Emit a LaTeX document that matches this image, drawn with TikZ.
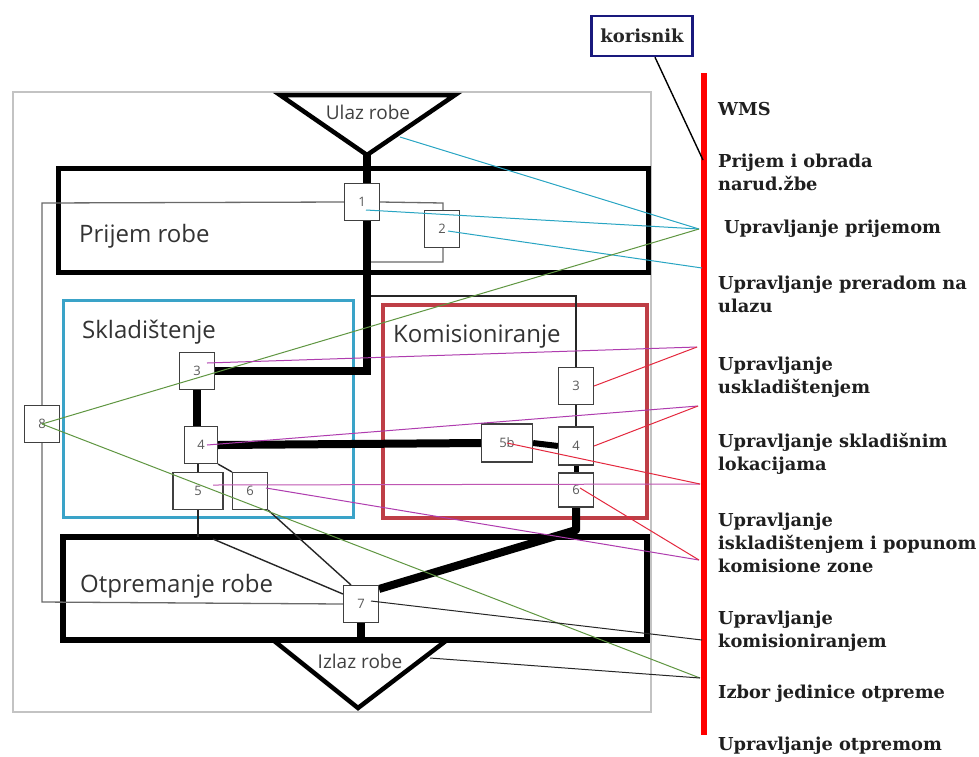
\documentclass[tikz,border=0pt]{standalone}
\usepackage{fontspec}
\setmainfont{DejaVu Serif}
\newfontfamily\osans{Open Sans}
\usetikzlibrary{calc}
\definecolor{framegray}{RGB}{195,195,195}
\definecolor{loopgray}{RGB}{105,105,105}
\definecolor{sklcol}{RGB}{58,163,200}
\definecolor{komcol}{RGB}{190,62,70}
\definecolor{lcyan}{RGB}{40,165,195}
\definecolor{lgreen}{RGB}{95,150,65}
\definecolor{lpurp}{RGB}{175,60,175}
\definecolor{lred}{RGB}{228,40,62}
\definecolor{navycol}{RGB}{25,25,125}
\begin{document}
\begin{tikzpicture}[x=1pt,y=-1pt,
  numbox/.style={draw=black!75, fill=white, line width=1.1pt, minimum width=35pt, minimum height=37pt, inner sep=0pt, font=\osans\fontsize{13}{14}\selectfont, text=black!65},
  thickline/.style={line width=8pt},
  thinline/.style={line width=1.4pt, black!85},
  grayline/.style={line width=1.3pt, loopgray},
  conn/.style={line width=1pt},
  lbl/.style={font=\osans\fontsize{24}{28}\selectfont, text=black!80, anchor=west, inner sep=0pt},
  trilbl/.style={font=\osans\fontsize{19}{20}\selectfont, text=black!75, inner sep=0pt},
  wms/.style={font=\bfseries\fontsize{17.8}{23}\selectfont, text=black!88, anchor=base west, align=left, inner sep=0pt},
]
\useasboundingbox (0,0) rectangle (979,756);
\fill[white] (0,0) rectangle (979,756);

% outer frame
\node[draw=framegray, line width=1.5pt, minimum width=638pt, minimum height=620pt, inner sep=0pt] (frame) at (332,402) {};

% area boxes
\node[draw, line width=5pt, minimum width=590pt, minimum height=104pt, inner sep=0pt] (prijemBox) at (353,220) {};
\node[lbl] (prijemTxt) at (79,236) {Prijem robe};
\node[draw=sklcol, line width=3pt, minimum width=290pt, minimum height=217pt, inner sep=0pt] (sklBox) at (208,408.5) {};
\node[lbl] (sklTxt) at (82,332) {Skladištenje};
\node[draw=komcol, line width=3.5pt, minimum width=264pt, minimum height=213pt, inner sep=0pt] (komBox) at (515,411.5) {};
\node[lbl] (komTxt) at (393,337) {Komisioniranje};
\node[draw, line width=6pt, minimum width=584pt, minimum height=103pt, inner sep=0pt] (otpBox) at (355,588.5) {};
\node[lbl] (otpTxt) at (80,586) {Otpremanje robe};

% triangles
\coordinate (uL) at (280,95); \coordinate (uR) at (455,95); \coordinate (uA) at (367,155);
\draw[line width=4.5pt, line join=miter] (uL) -- (uR) -- (uA) -- cycle;
\node[trilbl] (ulaz) at (368,112) {Ulaz robe};
\coordinate (iL) at (273,640); \coordinate (iR) at (447,640); \coordinate (iA) at (358,708);
\draw[line width=4.5pt, line join=miter] (iL) -- (iA) -- (iR);
\node[trilbl] (izlaz) at (360,661) {Izlaz robe};
\coordinate (ulazR) at (400,137);
\coordinate (izlazR) at (430,658);

% boxes (positions)
\path
  (362,202) node[numbox] (b1) {1}
  (442,229) node[numbox] (b2) {2}
  (197,371) node[numbox] (b3) {3}
  (201,445) node[numbox, minimum width=33pt] (b4) {4}
  (198,491) node[numbox, minimum width=50pt] (b5) {5}
  (250,491) node[numbox] (b6) {6}
  (576,386) node[numbox] (r3) {3}
  (576,446) node[numbox, minimum height=38pt] (r4) {4}
  (576,490) node[numbox, minimum height=34pt] (r6) {6}
  (507,443) node[numbox, minimum width=51pt, minimum height=38pt] (b5b) {5b}
  (361,604) node[numbox] (b7) {7}
  (42,424) node[numbox] (b8) {8};

% gray loop lines
\coordinate (gTL) at (42,203); \coordinate (gBL) at (42,602);
\coordinate (gR1) at (443,203); \coordinate (gR2) at (443,262); \coordinate (gR3) at (367,262);
\draw[grayline] (b1.west) -- (gTL) -- (gBL) -- (b7.west);
\draw[grayline] (b1.east) -- (gR1) -- (gR2) -- (gR3);

% thin black lines
\coordinate (kTop) at (367,296);
\draw[thinline] (kTop) -| (r3.north);
\draw[thinline] (r3.south) -- (r4.north);
\draw[thinline] (b4.south -| b5.north) -- (b5.north);
\draw[thinline] (b4.south east) -- (b6.north west);
\coordinate (o5) at (198,537);
\draw[thinline] (b5.south) -- (o5);
\coordinate (o7) at (213,539);
\draw[thinline] (o7) -- ($(b7.west)+(0,-10)$);
\draw[thinline] (b6.south east) -- ($(b7.north)+(-10,0)$);

% thick flow lines
\draw[thickline] (uA) |- (b3.east);
\draw[thickline] (b3.south) -- (b3.south |- b4.north);
\draw[thickline] (b4.east) -- (b5b.west);
\draw[line width=6pt] (b5b.east) -- (r4.west);
\draw[line width=5pt] (r4.south) -- (r6.north);
\coordinate (kBend) at (576,530);
\draw[thickline, line join=round] (r6.south) -- (kBend) -- ($(b7.north east)+(0,4)$);
\coordinate (o7b) at (361,640);
\draw[thickline] (b7.south) -- (o7b);

% redraw boxes on top of lines
\path
  (362,202) node[numbox] {1}
  (442,229) node[numbox] {2}
  (197,371) node[numbox] {3}
  (201,445) node[numbox, minimum width=33pt] {4}
  (198,491) node[numbox, minimum width=50pt] {5}
  (250,491) node[numbox] {6}
  (576,386) node[numbox] {3}
  (576,446) node[numbox, minimum height=38pt] {4}
  (576,490) node[numbox, minimum height=34pt] {6}
  (507,443) node[numbox, minimum width=51pt, minimum height=38pt] {5b}
  (361,604) node[numbox] {7}
  (42,424) node[numbox] {8};

% WMS bar and points
\coordinate (wTop) at (704,73); \coordinate (wBot) at (704,735);
\draw[red, line width=6pt] (wTop) -- (wBot);
\coordinate (pNar) at (703,160);
\coordinate (pPrijem) at (699,229);
\coordinate (pPrerada) at (702,268);
\coordinate (pUsk) at (697,347);
\coordinate (pLok) at (698,406);
\coordinate (pIsk1) at (700,484);
\coordinate (pIsk2) at (699,560);
\coordinate (pKom) at (702,640);
\coordinate (pIzbor) at (700,678);

% colored connectors
\draw[conn, lcyan] (ulazR) -- (pPrijem);
\draw[conn, lcyan] ([shift={(4,8)}]b1.center) -- (pPrijem);
\draw[conn, lcyan] ([shift={(6,2)}]b2.center) -- (pPrerada);
\draw[conn, lgreen] (b8.center) -- (pPrijem);
\draw[conn, lgreen] (b8.center) -- (pIzbor);
\draw[conn, lpurp] ([shift={(10,-8)}]b3.center) -- (pUsk);
\draw[conn, lpurp] ([shift={(6,0)}]b4.center) -- (pLok);
\draw[conn, lpurp!80!pink] ([shift={(15,-6)}]b5.center) -- (pIsk1);
\draw[conn, lpurp] ([shift={(16,-3)}]b6.center) -- (pIsk2);
\draw[conn, lred] (r3.east) -- (pUsk);
\draw[conn, lred] (r4.east) -- (pLok);
\draw[conn, lred] (b5b.center) -- (pIsk1);
\draw[conn, lred] ([shift={(4,-2)}]r6.center) -- (pIsk2);
\draw[conn, black!85] ([shift={(10,-3)}]b7.center) -- (pKom);
\draw[conn, black!85] (izlazR) -- (pIzbor);

% korisnik
\node[draw=navycol, line width=2.5pt, fill=white, minimum width=101pt, minimum height=40pt, inner sep=0pt, font=\bfseries\fontsize{18}{20}\selectfont, text=black!85] (kor) at (642,36) {korisnik};
\draw[line width=1.4pt] ([xshift=13pt]kor.south) -- (pNar);

% WMS texts (base = baseline of last line)
\node[wms] (t0) at (718,115) {WMS};
\node[wms] (t1) at (718,190) {Prijem i obrada\\narud.žbe};
\node[wms] (t2) at (724,233) {Upravljanje prijemom};
\node[wms] (t3) at (718,312) {Upravljanje preradom na\\ulazu};
\node[wms] (t4) at (718,393) {Upravljanje\\uskladištenjem};
\node[wms] (t5) at (718,470) {Upravljanje skladišnim\\lokacijama};
\node[wms] (t6) at (718,572) {Upravljanje\\iskladištenjem i popunom\\komisione zone};
\node[wms] (t7) at (718,647) {Upravljanje\\komisioniranjem};
\node[wms] (t8) at (718,698) {Izbor jedinice otpreme};
\node[wms] (t9) at (718,750) {Upravljanje otpremom};
\end{tikzpicture}
\end{document}
